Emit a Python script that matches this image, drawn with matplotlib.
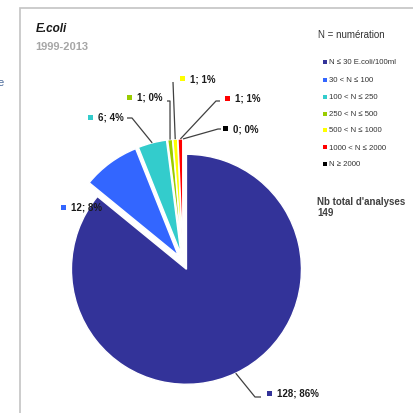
import numpy as np
import matplotlib
matplotlib.use("Agg")
import matplotlib.pyplot as plt
from matplotlib.patches import Rectangle

plt.rcParams['font.family'] = ['Liberation Sans', 'DejaVu Sans']

# ---- data ----
categories = ["N \u2264 30 E.coli/100ml", "30 < N \u2264 100", "100 < N \u2264 250",
              "250 < N \u2264 500", "500 < N \u2264 1000", "1000 < N \u2264 2000", "N \u2265 2000"]
counts = [128, 12, 6, 1, 1, 1, 0]
percents = [86, 8, 4, 0, 1, 1, 0]
colors = ["#333399", "#3366FF", "#33CCCC", "#99CC00", "#FFFF00", "#FF0000", "#000000"]
total = 149
title = "E.coli"
subtitle = "1999-2013"

# ---- layout (pixels) ----
W = 414
CX, CY, RPX = 183.0, 263.0, 115.0
EXPL = 0.07

def d(x, y):
    return ((x - CX) / RPX, (CY - y) / RPX)

fig = plt.figure(figsize=(4.14, 4.14), dpi=100)
ax = fig.add_axes([0, 0, 1, 1])
ax.pie(counts, colors=colors, startangle=90, counterclock=False,
       explode=[EXPL] * len(counts), radius=1, center=(0, 0),
       wedgeprops=dict(edgecolor="white", linewidth=1.0))
x0, y0 = d(0, W)
x1, y1 = d(W, 0)
ax.set_xlim(x0, x1)
ax.set_ylim(y0, y1)
ax.set_aspect('auto')
ax.axis('off')

# frame
fig.patches.append(Rectangle((20 / W, -0.1), 1.2, 1 - 9 / W + 0.1, transform=fig.transFigure,
                             fill=False, edgecolor="#c4c4c4", linewidth=1.2))

fig.text(4 / W, 1 - 83 / W, "e", ha='right', va='center', fontsize=8, color="#4a6a9a")

fig.text(36 / W, 1 - 29 / W, title, fontsize=8.5, fontweight='bold', fontstyle='italic',
         color="#1a1a1a", va='center', ha='left')
fig.text(35 / W, 1 - 47 / W, subtitle, fontsize=8, fontweight='bold',
         color="#a6a6a6", va='center', ha='left')

# legend
fig.text(318 / W, 1 - 35 / W, "N = numération", fontsize=7, color="#333333", va='center')
leg_y = [63, 81, 98, 114.5, 131, 148, 165]
for c, lab, yy in zip(colors, categories, leg_y):
    ax.plot(*d(325.5, yy), marker='s', markersize=3.2, color=c, markeredgewidth=0)
    fig.text(329 / W, 1 - yy / W, lab, fontsize=5.6, color="#333333", va='center')

fig.text(317 / W, 1 - 202 / W, "Nb total d'analyses", fontsize=7, fontweight='bold',
         color="#404040", va='center')
fig.text(317 / W, 1 - 213 / W, str(total), fontsize=7, fontweight='bold',
         color="#404040", va='center')

# data labels: marker position (pixels) and leader path (pixels, after pie anchor)
label_pos = [(269, 394), (63, 208), (90, 118), (129, 98), (182, 79), (227, 99), (225, 129)]
leader = [[(255, 398), (261, 398)], None, [(132, 119), (127, 119)], [(170, 102), (167, 102)],
          [(173, 83)], [(216, 102), (220, 102)], [(218, 130), (221, 130)]]

cum = np.cumsum([0] + counts)
for i, (n, p) in enumerate(zip(counts, percents)):
    mid = 90 - 360 * (cum[i] + cum[i + 1]) / 2 / total
    a = np.deg2rad(mid)
    ax_pt = ((1 + EXPL) * np.cos(a), (1 + EXPL) * np.sin(a))
    if leader[i] is not None:
        pts = [ax_pt] + [d(*q) for q in leader[i]]
        xs, ys = zip(*pts)
        ax.plot(xs, ys, color="#404040", linewidth=0.9, solid_capstyle='butt')
    mx, my = label_pos[i]
    ax.plot(*d(mx, my), marker='s', markersize=3.6, color=colors[i], markeredgewidth=0)
    fig.text((mx + 8) / W, 1 - my / W, f"{n}; {p}%", fontsize=7, fontweight='bold',
             color="#1a1a1a", va='center', ha='left')

fig.savefig("out.png", dpi=100)
